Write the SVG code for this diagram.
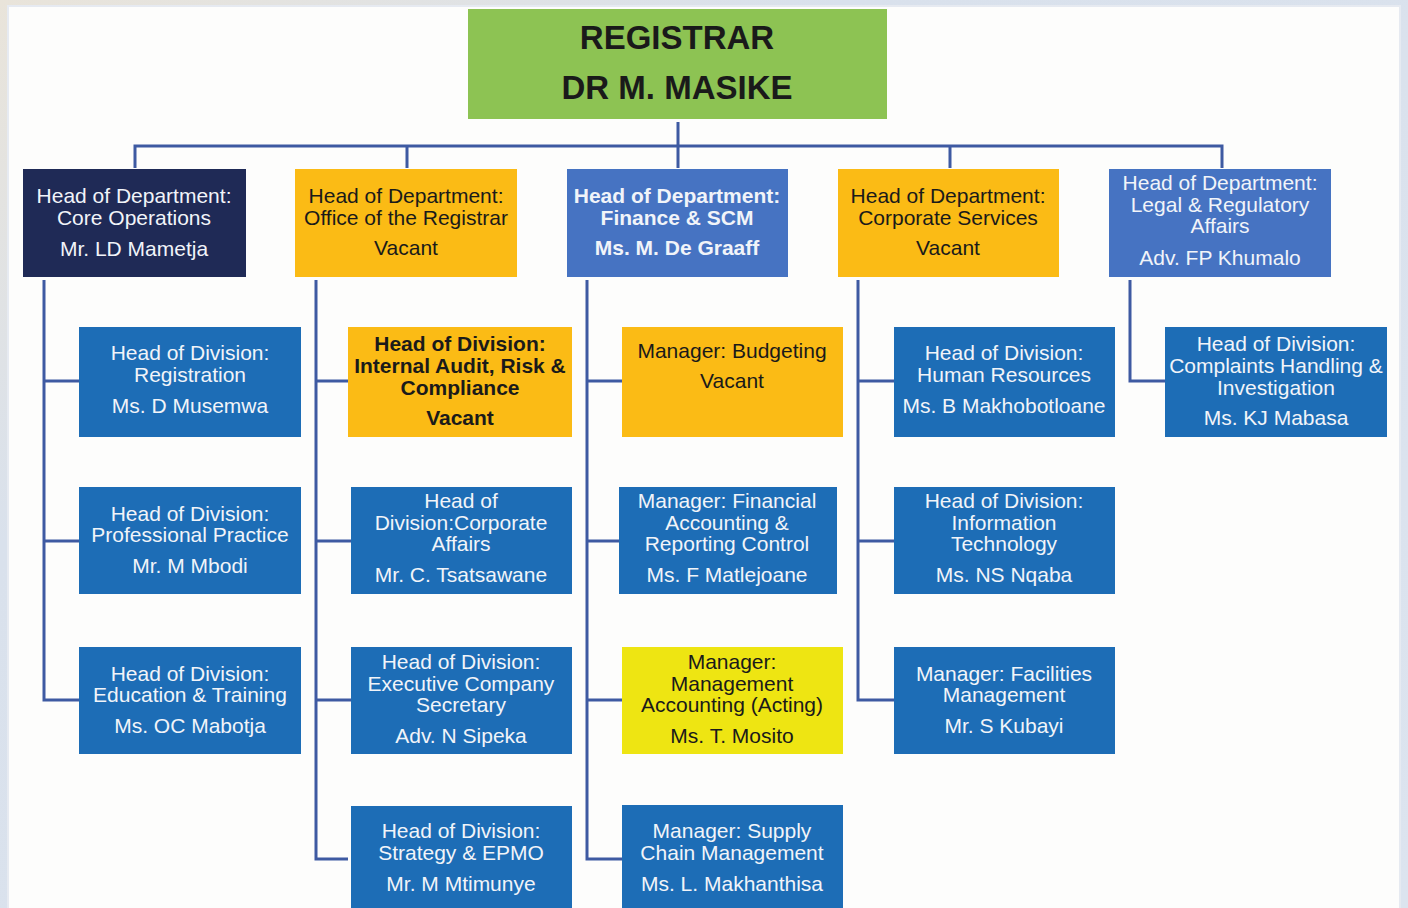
<svg xmlns="http://www.w3.org/2000/svg" width="1408" height="908" viewBox="0 0 1408 908">
<defs>
<linearGradient id="bg" x1="0" y1="0" x2="1" y2="1">
<stop offset="0" stop-color="#E9E4DA"/>
<stop offset="0.3" stop-color="#D9E1EC"/>
<stop offset="1" stop-color="#DCE4EF"/>
</linearGradient>
<style>
.t{font-family:"Liberation Sans",Arial,sans-serif;font-size:21px;text-anchor:middle}
.w{fill:#F1F4F9}
.k{fill:#1A1A1A}
.b{font-weight:bold}
.navy{fill:#1F2A56}
.org{fill:#FBBB15}
.hb{fill:#4673C2}
.db{fill:#1D6DB6}
.yel{fill:#EEE512}
.grn{fill:#8DC353}
.c{fill:none;stroke:#3E5AA2;stroke-width:3}
</style>
</defs>
<rect x="0" y="0" width="1408" height="908" fill="url(#bg)"/>
<rect x="8" y="6" width="1392" height="910" fill="#FDFDFC" stroke="#E6EAF1" stroke-width="2"/>

<g id="connectors">
<path class="c" d="M678 122V146M135 168V146H1222V168M407 146V168M678 146V168M950 146V168"/>
<path class="c" d="M44 280V700H79M44 381H79M44 541H79"/>
<path class="c" d="M316 280V859H348M316 381H348M316 541H351M316 700H351"/>
<path class="c" d="M587 280V859H622M587 381H622M587 541H619M587 700H622"/>
<path class="c" d="M858 280V700H894M858 381H894M858 541H894"/>
<path class="c" d="M1130 280V381H1165"/>
</g>

<g id="registrar">
<rect class="grn" x="468" y="9" width="419" height="110"/>
<text class="t b k" x="677" y="49" style="font-size:33px">REGISTRAR</text>
<text class="t b k" x="677" y="99" style="font-size:33px">DR M. MASIKE</text>
</g>

<g id="hod-core">
<rect class="navy" x="23" y="169" width="223" height="108"/>
<text class="t w" x="134" y="203">Head of Department:</text>
<text class="t w" x="134" y="225">Core Operations</text>
<text class="t w" x="134" y="256">Mr. LD Mametja</text>
</g>
<g id="hod-registrar">
<rect class="org" x="295" y="169" width="222" height="108"/>
<text class="t k" x="406" y="203">Head of Department:</text>
<text class="t k" x="406" y="225">Office of the Registrar</text>
<text class="t k" x="406" y="255">Vacant</text>
</g>
<g id="hod-finance">
<rect class="hb" x="567" y="169" width="221" height="108"/>
<text class="t w b" x="677" y="203">Head of Department:</text>
<text class="t w b" x="677" y="225">Finance &amp; SCM</text>
<text class="t w b" x="677" y="255">Ms. M. De Graaff</text>
</g>
<g id="hod-corporate">
<rect class="org" x="838" y="169" width="221" height="108"/>
<text class="t k" x="948" y="203">Head of Department:</text>
<text class="t k" x="948" y="225">Corporate Services</text>
<text class="t k" x="948" y="255">Vacant</text>
</g>
<g id="hod-legal">
<rect class="hb" x="1109" y="169" width="222" height="108"/>
<text class="t w" x="1220" y="190">Head of Department:</text>
<text class="t w" x="1220" y="212">Legal &amp; Regulatory</text>
<text class="t w" x="1220" y="233">Affairs</text>
<text class="t w" x="1220" y="265">Adv. FP Khumalo</text>
</g>

<g id="div-registration">
<rect class="db" x="79" y="327" width="222" height="110"/>
<text class="t w" x="190" y="360">Head of Division:</text>
<text class="t w" x="190" y="382">Registration</text>
<text class="t w" x="190" y="413">Ms. D Musemwa</text>
</g>
<g id="div-professional">
<rect class="db" x="79" y="487" width="222" height="107"/>
<text class="t w" x="190" y="521">Head of Division:</text>
<text class="t w" x="190" y="542">Professional Practice</text>
<text class="t w" x="190" y="573">Mr. M Mbodi</text>
</g>
<g id="div-education">
<rect class="db" x="79" y="647" width="222" height="107"/>
<text class="t w" x="190" y="681">Head of Division:</text>
<text class="t w" x="190" y="702">Education &amp; Training</text>
<text class="t w" x="190" y="733">Ms. OC Mabotja</text>
</g>

<g id="div-audit">
<rect class="org" x="348" y="327" width="224" height="110"/>
<text class="t k b" x="460" y="351">Head of Division:</text>
<text class="t k b" x="460" y="373">Internal Audit, Risk &amp;</text>
<text class="t k b" x="460" y="395">Compliance</text>
<text class="t k b" x="460" y="425">Vacant</text>
</g>
<g id="div-corpaffairs">
<rect class="db" x="351" y="487" width="221" height="107"/>
<text class="t w" x="461" y="508">Head of</text>
<text class="t w" x="461" y="530">Division:Corporate</text>
<text class="t w" x="461" y="551">Affairs</text>
<text class="t w" x="461" y="582">Mr. C. Tsatsawane</text>
</g>
<g id="div-secretary">
<rect class="db" x="351" y="647" width="221" height="107"/>
<text class="t w" x="461" y="669">Head of Division:</text>
<text class="t w" x="461" y="691">Executive Company</text>
<text class="t w" x="461" y="712">Secretary</text>
<text class="t w" x="461" y="743">Adv. N Sipeka</text>
</g>
<g id="div-strategy">
<rect class="db" x="351" y="806" width="221" height="110"/>
<text class="t w" x="461" y="838">Head of Division:</text>
<text class="t w" x="461" y="860">Strategy &amp; EPMO</text>
<text class="t w" x="461" y="891">Mr. M Mtimunye</text>
</g>

<g id="mgr-budgeting">
<rect class="org" x="622" y="327" width="221" height="110"/>
<text class="t k" x="732" y="358">Manager: Budgeting</text>
<text class="t k" x="732" y="388">Vacant</text>
</g>
<g id="mgr-financial">
<rect class="db" x="619" y="487" width="218" height="107"/>
<text class="t w" x="727" y="508">Manager: Financial</text>
<text class="t w" x="727" y="530">Accounting &amp;</text>
<text class="t w" x="727" y="551">Reporting Control</text>
<text class="t w" x="727" y="582">Ms. F Matlejoane</text>
</g>
<g id="mgr-management">
<rect class="yel" x="622" y="647" width="221" height="107"/>
<text class="t k" x="732" y="669">Manager:</text>
<text class="t k" x="732" y="691">Management</text>
<text class="t k" x="732" y="712">Accounting (Acting)</text>
<text class="t k" x="732" y="743">Ms. T. Mosito</text>
</g>
<g id="mgr-scm">
<rect class="db" x="622" y="805" width="221" height="110"/>
<text class="t w" x="732" y="838">Manager: Supply</text>
<text class="t w" x="732" y="860">Chain Management</text>
<text class="t w" x="732" y="891">Ms. L. Makhanthisa</text>
</g>

<g id="div-hr">
<rect class="db" x="894" y="327" width="221" height="110"/>
<text class="t w" x="1004" y="360">Head of Division:</text>
<text class="t w" x="1004" y="382">Human Resources</text>
<text class="t w" x="1004" y="413">Ms. B Makhobotloane</text>
</g>
<g id="div-it">
<rect class="db" x="894" y="487" width="221" height="107"/>
<text class="t w" x="1004" y="508">Head of Division:</text>
<text class="t w" x="1004" y="530">Information</text>
<text class="t w" x="1004" y="551">Technology</text>
<text class="t w" x="1004" y="582">Ms. NS Nqaba</text>
</g>
<g id="mgr-facilities">
<rect class="db" x="894" y="647" width="221" height="107"/>
<text class="t w" x="1004" y="681">Manager: Facilities</text>
<text class="t w" x="1004" y="702">Management</text>
<text class="t w" x="1004" y="733">Mr. S Kubayi</text>
</g>

<g id="div-complaints">
<rect class="db" x="1165" y="327" width="222" height="110"/>
<text class="t w" x="1276" y="351">Head of Division:</text>
<text class="t w" x="1276" y="373">Complaints Handling &amp;</text>
<text class="t w" x="1276" y="395">Investigation</text>
<text class="t w" x="1276" y="425">Ms. KJ Mabasa</text>
</g>
</svg>
